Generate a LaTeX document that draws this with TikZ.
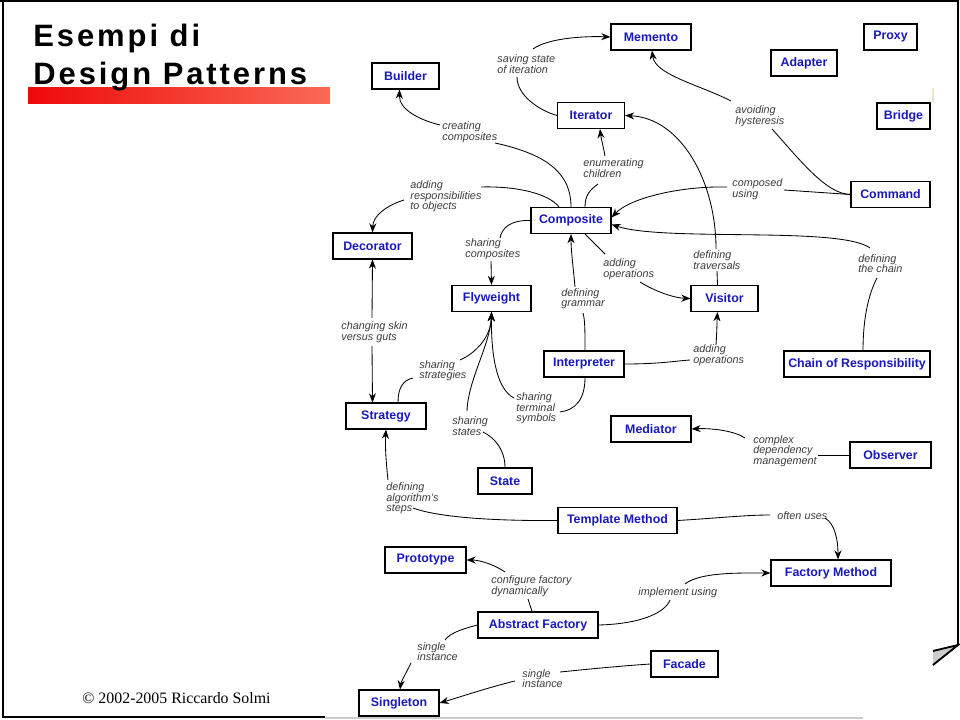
\documentclass[tikz,border=0pt]{standalone}
\usepackage{fontspec}
\setmainfont{Liberation Serif}
\setsansfont{Liberation Sans}
\newfontfamily\titlefont[LetterSpace=9.5]{Liberation Sans}
\usetikzlibrary{calc,arrows.meta}
\definecolor{dpblue}{RGB}{25,25,185}
\definecolor{dpgray}{RGB}{60,60,60}
\definecolor{barleft}{RGB}{238,10,10}
\definecolor{barright}{RGB}{250,105,85}

\begin{document}
\begin{tikzpicture}[x=0.025cm, y=-0.025cm, >={Stealth[length=6.5pt,width=5pt]}, line width=0.6pt,
  dpbox/.style={draw, line width=0.8pt, fill=white, minimum height=0.65cm, inner sep=0pt, text=dpblue, font=\fontsize{8.8pt}{10pt}\sffamily\bfseries},
  dplabel/.style={anchor=west, align=left, inner sep=0pt, text=dpgray, font=\fontsize{7.7pt}{7.5pt}\sffamily\itshape}]
	% ==================== SLIDE ====================
	\fill[white] (0,0) rectangle (960,720);
	\useasboundingbox (0,0) rectangle (960,720);
	\draw[line width=1.5pt] (3,0) -- (3,717) -- (325,717);
	\draw[line width=1.2pt] (0,1) -- (958,1) -- (958,645);
	\draw[gray!40, line width=1pt] (325,718) -- (863,718);
	\fill[gray!40] (933,650) -- (958,645) -- (933,665) -- cycle;
	\draw[line width=1.3pt] (933,651) -- (958,645) -- (933,665);
	\draw[color={rgb,255:red,235;green,225;blue,200}, line width=0.8pt] (933,88) -- (933,102);
	
	% titolo
	\shade[left color=barleft, right color=barright] (28,88) rectangle (330,104);
	\node[anchor=base west, inner sep=0pt, font=\fontsize{22pt}{26pt}\titlefont\bfseries] (title1) at (33,47) {Esempi di};
	\node[anchor=base west, inner sep=0pt, font=\fontsize{22pt}{26pt}\titlefont\bfseries] (title2) at (33,85) {Design Patterns};
	\node[anchor=base west, inner sep=0pt, font=\fontsize{11.3pt}{13pt}\rmfamily] (footer) at (82,703) {\textcopyright{} 2002-2005 Riccardo Solmi};
	
	% ==================== PATTERNS ====================
	\node[dpbox, minimum width=2cm] (memento) at (651,37) {Memento};
	\node[dpbox, minimum width=1.325cm] (proxy) at (890.5,37) {Proxy};
	\node[dpbox, minimum width=1.65cm] (adapter) at (804,63) {Adapter};
	\node[dpbox, minimum width=1.675cm] (builder) at (405.5,76) {Builder};
	\node[dpbox, minimum width=1.675cm] (iter) at (591,115.5) {Iterator};
	\node[dpbox, minimum width=1.325cm] (bridge) at (903.5,116) {Bridge};
	\node[dpbox, minimum width=1.975cm] (cmd) at (890.5,194.5) {Command};
	\node[dpbox, minimum width=2cm] (comp) at (571,220.5) {Composite};
	\node[dpbox, minimum width=1.975cm] (dec) at (372.5,246) {Decorator};
	\node[dpbox, minimum width=1.975cm] (fly) at (491.5,298.5) {Flyweight};
	\node[dpbox, minimum width=1.675cm] (vis) at (724.5,298.5) {Visitor};
	\node[dpbox, minimum width=2cm] (interp) at (584,364) {Interpreter};
	\node[dpbox, minimum width=3.65cm] (cor) at (857,364) {Chain of Responsibility};
	\node[dpbox, minimum width=2cm] (strat) at (386,416) {Strategy};
	\node[dpbox, minimum width=2cm] (med) at (651,429) {Mediator};
	\node[dpbox, minimum width=2.025cm] (obs) at (890.5,455) {Observer};
	\node[dpbox, minimum width=1.35cm] (state) at (505,481) {State};
	\node[dpbox, minimum width=2.975cm] (tm) at (617.5,520.5) {Template Method};
	\node[dpbox, minimum width=2.025cm] (proto) at (425.5,560) {Prototype};
	\node[dpbox, minimum width=3cm] (fm) at (831,573) {Factory Method};
	\node[dpbox, minimum width=3cm] (af) at (538,625) {Abstract Factory};
	\node[dpbox, minimum width=1.675cm] (facade) at (684.5,664) {Facade};
	\node[dpbox, minimum width=2cm] (sing) at (399,703) {Singleton};
	
	% ==================== RELAZIONI ====================
	\node[dplabel] (lsav) at (497,64) {saving state\\of iteration};
	\node[dplabel] (lcre) at (442,132) {creating\\composites};
	\node[dplabel] (lenu) at (583,168) {enumerating\\children};
	\node[dplabel] (lres) at (410,196.5) {adding\\responsibilities\\to objects};
	\node[dplabel] (lavo) at (735,116) {avoiding\\hysteresis};
	\node[dplabel] (lcmp) at (732,189) {composed\\using};
	\node[dplabel] (lshc) at (465,249) {sharing\\composites};
	\node[dplabel] (laop) at (603,269) {adding\\operations};
	\node[dplabel] (ltrv) at (693,260) {defining\\traversals};
	\node[dplabel] (lchn) at (858,263.5) {defining\\the chain};
	\node[dplabel] (lgra) at (561,298.5) {defining\\grammar};
	\node[dplabel] (lski) at (341,332) {changing skin\\versus guts};
	\node[dplabel] (laov) at (693,355) {adding\\operations};
	\node[dplabel] (lstr) at (419,370.5) {sharing\\strategies};
	\node[dplabel] (lter) at (516,408.5) {sharing\\terminal\\symbols};
	\node[dplabel] (lsta) at (452,426) {sharing\\states};
	\node[dplabel] (lcdm) at (753,451) {complex\\dependency\\management};
	\node[dplabel] (lalg) at (386,498.5) {defining\\algorithm's\\steps};
	\node[dplabel] (loft) at (777,516) {often uses};
	\node[dplabel] (lcfg) at (491,586) {configure factory\\dynamically};
	\node[dplabel] (limp) at (638,593) {implement using};
	\node[dplabel] (lsi1) at (417,651.5) {single\\instance};
	\node[dplabel] (lsi2) at (522,678.5) {single\\instance};
	
	% Iterator -> Memento
	\draw (iter.west) .. controls (538,110) and (517,95) .. ($(lsav.west)+(20,13)$);
	\draw[->] ($(lsav.west)+(36,-15)$) .. controls (548,38) and (585,36) .. (memento.west);
	% Composite -> Builder
	\draw (comp.north) .. controls (571,175) and (550,155) .. ($(lcre.west)+(53,11)$);
	\draw[->] ($(lcre.west)+(-2,-7)$) .. controls (420,120) and (399,110) .. ($(builder.south)+(-6,0)$);
	% Composite -> Iterator
	\draw ($(comp.north)+(14,0)$) .. controls (585,195) and (590,190) .. ($(lenu.west)+(15,16)$);
	\draw[->] ($(lenu.west)+(22,-12)$) .. controls (603,145) and (601,138) .. ($(iter.south)+(9,0)$);
	% Composite -> Decorator
	\draw ($(comp.north)+(-12,0)$) .. controls (548,193) and (515,186) .. ($(lres.west)+(71,-9.5)$);
	\draw[->] ($(lres.west)+(-6,3.5)$) .. controls (388,205) and (373,215) .. (dec.north);
	% Visitor -> Iterator
	\draw ($(vis.north)+(-7,0)$) -- ($(ltrv.west)+(24,11)$);
	\draw[->] ($(ltrv.west)+(23,-11)$) .. controls (716,180) and (680,118) .. (iter.east);
	% Command -> Memento
	\draw (cmd.west) .. controls (826,194) and (800,160) .. ($(lavo.west)+(37,13)$);
	\draw[->] ($(lavo.west)+(-4,-15)$) .. controls (700,85) and (655,75) .. ($(memento.south)+(1,0)$);
	% Command -> Composite
	\draw (cmd.west) -- ($(lcmp.west)+(52,1)$);
	\draw[->] ($(lcmp.west)+(-5,-2)$) .. controls (680,186) and (630,198) .. ($(comp.east)+(0,-3)$);
	% Chain of Responsibility -> Composite
	\draw ($(cor.north)+(6,0)$) .. controls (863,320) and (868,295) .. ($(lchn.west)+(19,14.5)$);
	\draw[->] ($(lchn.west)+(12,-15.5)$) .. controls (840,226) and (665,242) .. ($(comp.east)+(0,4)$);
	% Composite -> Visitor
	\draw ($(comp.south)+(14,0)$) -- ($(laop.west)+(2,-15)$);
	\draw[->] ($(laop.west)+(37,13)$) .. controls (656,292) and (675,298) .. (vis.west);
	% Composite -> Flyweight
	\draw (comp.west) .. controls (510,220) and (502,228) .. ($(lshc.west)+(35,-11)$);
	\draw[->] ($(lshc.west)+(26,12)$) -- (fly.north);
	% Interpreter -> Composite
	\draw ($(interp.north)+(1,0)$) .. controls (585,330) and (585,320) .. ($(lgra.west)+(22,14.5)$);
	\draw[->] ($(lgra.west)+(14,-11.5)$) .. controls (573,265) and (571,250) .. (comp.south);
	% Interpreter -> Visitor
	\draw (interp.east) .. controls (660,364) and (675,361) .. ($(laov.west)+(-3,5)$);
	\draw[->] ($(laov.west)+(23,-10)$) .. controls (717,330) and (717,320) .. ($(vis.south)+(-7,0)$);
	% Decorator <-> Strategy
	\draw[->] ($(lski.west)+(31,-14)$) -- (dec.south);
	\draw[->] ($(lski.west)+(31,14)$) -- ($(strat.north)+(-13.5,0)$);
	% Strategy, State, Interpreter -> Flyweight
	\draw ($(strat.north)+(12,0)$) .. controls (398,388) and (403,380) .. ($(lstr.west)+(-6,7.5)$);
	\draw[->] ($(lstr.west)+(41,-10.5)$) .. controls (478,352) and (491,335) .. (fly.south);
	\draw (state.north) .. controls (505,450) and (495,438) .. ($(lsta.west)+(31,6)$);
	\draw[->] ($(lsta.west)+(15,-15)$) .. controls (468,380) and (490,345) .. (fly.south);
	\draw ($(interp.south)+(1,0)$) .. controls (585,400) and (575,410) .. ($(lter.west)+(44,3.5)$);
	\draw[->] ($(lter.west)+(-2,-10.5)$) .. controls (498,390) and (491,360) .. (fly.south);
	% Template Method -> Strategy
	\draw (tm.west) .. controls (500,521) and (440,518) .. ($(lalg.west)+(27,9.5)$);
	\draw[->] ($(lalg.west)+(2,-18.5)$) .. controls (386,462) and (385,445) .. (strat.south);
	% Observer -> Mediator
	\draw (obs.west) -- ($(lcdm.west)+(65,4)$);
	\draw[->] ($(lcdm.west)+(-8,-13)$) .. controls (735,431) and (712,428) .. (med.east);
	% Template Method -> Factory Method
	\draw (tm.east) .. controls (720,518) and (745,515) .. ($(loft.west)+(-7,-1)$);
	\draw[->] ($(loft.west)+(48,2)$) .. controls (835,524) and (838,540) .. ($(fm.north)+(7,0)$);
	% Abstract Factory -> Factory Method
	\draw (af.east) .. controls (640,624) and (665,613) .. ($(limp.west)+(32,7)$);
	\draw[->] ($(limp.west)+(47,-9)$) .. controls (700,572) and (740,573) .. (fm.west);
	% Abstract Factory -> Prototype
	\draw ($(af.north)+(-6,0)$) -- ($(lcfg.west)+(37,13)$);
	\draw[->] ($(lcfg.west)+(14,-14)$) .. controls (495,565) and (480,560) .. (proto.east);
	% Abstract Factory, Facade -> Singleton
	\draw (af.west) .. controls (462,629) and (450,633) .. ($(lsi1.west)+(28,-11.5)$);
	\draw[->] ($(lsi1.west)+(-6,11.5)$) .. controls (405,675) and (401,682) .. ($(sing.north)+(1,0)$);
	\draw (facade.west) .. controls (620,666) and (590,669) .. ($(lsi2.west)+(38,-6.5)$);
	\draw[->] ($(lsi2.west)+(-7,2.5)$) .. controls (490,687) and (460,697) .. (sing.east);
\end{tikzpicture}
\end{document}
